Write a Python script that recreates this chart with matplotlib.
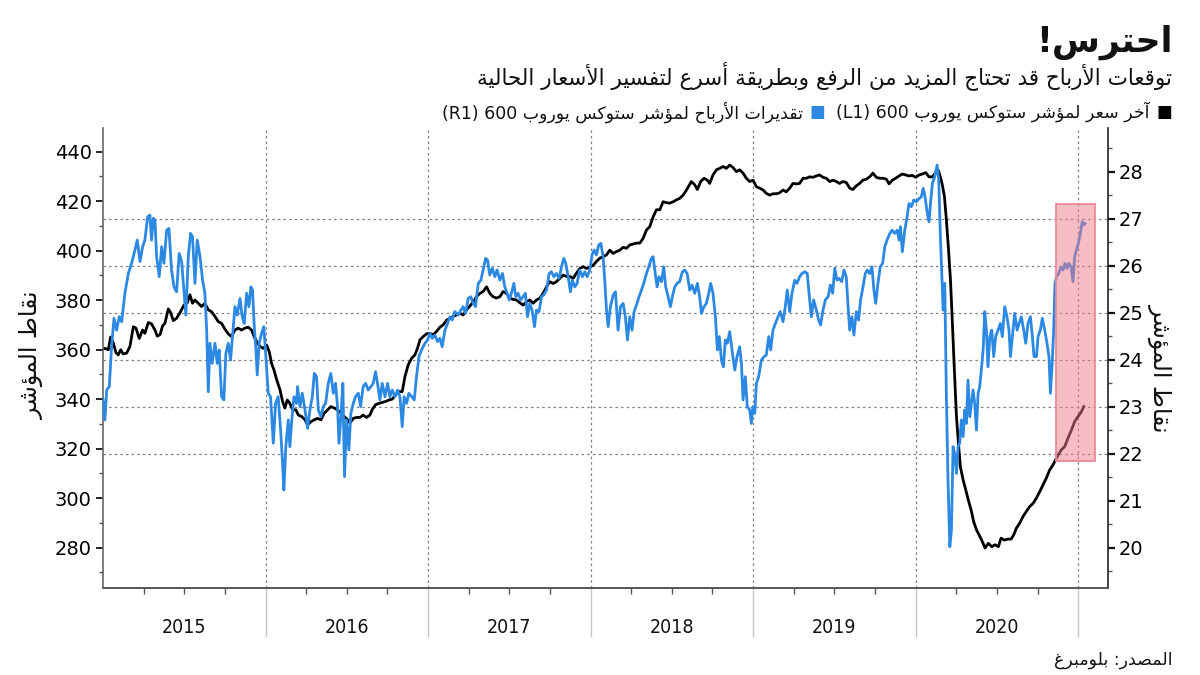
import matplotlib
matplotlib.use('Agg')
import matplotlib.pyplot as plt
from matplotlib.patches import Rectangle
from matplotlib.transforms import blended_transform_factory

# ---- data (decimal years) ----
# STOXX Europe 600 price, left axis (blue line)
price_dates = [
    2015.000, 2015.012, 2015.023, 2015.039, 2015.053, 2015.068, 2015.084, 2015.100, 2015.115, 2015.135,
    2015.156, 2015.176, 2015.197, 2015.211, 2015.228, 2015.244, 2015.258, 2015.275, 2015.289, 2015.299,
    2015.310, 2015.320, 2015.330, 2015.346, 2015.361, 2015.375, 2015.392, 2015.406, 2015.422, 2015.437,
    2015.453, 2015.469, 2015.484, 2015.498, 2015.510, 2015.525, 2015.539, 2015.551, 2015.566, 2015.580,
    2015.597, 2015.613, 2015.627, 2015.638, 2015.648, 2015.658, 2015.672, 2015.689, 2015.703, 2015.715,
    2015.730, 2015.744, 2015.756, 2015.771, 2015.785, 2015.797, 2015.812, 2015.826, 2015.843, 2015.857,
    2015.869, 2015.884, 2015.898, 2015.910, 2015.920, 2015.931, 2015.941, 2015.949, 2015.961, 2015.976,
    2015.990, 2016.002, 2016.017, 2016.031, 2016.048, 2016.062, 2016.078, 2016.093, 2016.105, 2016.113,
    2016.125, 2016.140, 2016.150, 2016.160, 2016.175, 2016.191, 2016.197, 2016.212, 2016.226, 2016.243,
    2016.259, 2016.273, 2016.288, 2016.300, 2016.314, 2016.325, 2016.341, 2016.355, 2016.370, 2016.386,
    2016.402, 2016.417, 2016.431, 2016.443, 2016.452, 2016.464, 2016.476, 2016.486, 2016.499, 2016.513,
    2016.525, 2016.540, 2016.554, 2016.571, 2016.585, 2016.601, 2016.616, 2016.632, 2016.648, 2016.663,
    2016.677, 2016.689, 2016.704, 2016.718, 2016.735, 2016.751, 2016.765, 2016.780, 2016.796, 2016.812,
    2016.827, 2016.841, 2016.853, 2016.868, 2016.882, 2016.899, 2016.915, 2016.929, 2016.944, 2016.960,
    2016.981, 2016.997, 2017.011, 2017.026, 2017.042, 2017.058, 2017.073, 2017.087, 2017.104, 2017.120,
    2017.134, 2017.149, 2017.165, 2017.186, 2017.202, 2017.216, 2017.231, 2017.247, 2017.263, 2017.278,
    2017.292, 2017.309, 2017.325, 2017.339, 2017.354, 2017.366, 2017.380, 2017.396, 2017.411, 2017.425,
    2017.442, 2017.458, 2017.472, 2017.487, 2017.499, 2017.513, 2017.528, 2017.540, 2017.554, 2017.569,
    2017.585, 2017.599, 2017.612, 2017.626, 2017.640, 2017.655, 2017.667, 2017.683, 2017.698, 2017.712,
    2017.729, 2017.745, 2017.759, 2017.774, 2017.790, 2017.806, 2017.821, 2017.835, 2017.847, 2017.862,
    2017.876, 2017.888, 2017.903, 2017.917, 2017.933, 2017.950, 2017.964, 2017.979, 2017.995, 2018.009,
    2018.022, 2018.036, 2018.050, 2018.063, 2018.077, 2018.087, 2018.098, 2018.108, 2018.122, 2018.139,
    2018.153, 2018.169, 2018.184, 2018.200, 2018.214, 2018.227, 2018.241, 2018.255, 2018.268, 2018.282,
    2018.298, 2018.313, 2018.327, 2018.344, 2018.358, 2018.374, 2018.385, 2018.395, 2018.409, 2018.421,
    2018.436, 2018.450, 2018.462, 2018.477, 2018.491, 2018.503, 2018.518, 2018.532, 2018.548, 2018.565,
    2018.579, 2018.594, 2018.610, 2018.624, 2018.641, 2018.657, 2018.671, 2018.682, 2018.698, 2018.712,
    2018.727, 2018.739, 2018.753, 2018.768, 2018.780, 2018.792, 2018.805, 2018.817, 2018.829, 2018.841,
    2018.856, 2018.870, 2018.887, 2018.901, 2018.917, 2018.928, 2018.938, 2018.952, 2018.964, 2018.979,
    2018.989, 2018.999, 2019.010, 2019.020, 2019.034, 2019.051, 2019.067, 2019.081, 2019.096, 2019.108,
    2019.122, 2019.137, 2019.153, 2019.167, 2019.184, 2019.198, 2019.210, 2019.225, 2019.239, 2019.256,
    2019.270, 2019.286, 2019.301, 2019.317, 2019.333, 2019.344, 2019.358, 2019.372, 2019.389, 2019.403,
    2019.415, 2019.430, 2019.444, 2019.461, 2019.475, 2019.489, 2019.502, 2019.516, 2019.530, 2019.545,
    2019.559, 2019.573, 2019.583, 2019.594, 2019.608, 2019.620, 2019.635, 2019.649, 2019.661, 2019.676,
    2019.690, 2019.702, 2019.717, 2019.731, 2019.743, 2019.754, 2019.768, 2019.782, 2019.797, 2019.810,
    2019.824, 2019.841, 2019.855, 2019.871, 2019.886, 2019.898, 2019.906, 2019.918, 2019.933, 2019.947,
    2019.959, 2019.974, 2019.988, 2020.005, 2020.021, 2020.035, 2020.046, 2020.056, 2020.070, 2020.082,
    2020.093, 2020.103, 2020.117, 2020.132, 2020.142, 2020.152, 2020.162, 2020.169, 2020.179, 2020.189,
    2020.199, 2020.210, 2020.220, 2020.230, 2020.240, 2020.251, 2020.261, 2020.271, 2020.281, 2020.292,
    2020.302, 2020.312, 2020.322, 2020.333, 2020.343, 2020.353, 2020.363, 2020.374, 2020.384, 2020.394,
    2020.404, 2020.415, 2020.425, 2020.435, 2020.445, 2020.456, 2020.468, 2020.480, 2020.492, 2020.507,
    2020.521, 2020.533, 2020.548, 2020.562, 2020.574, 2020.583, 2020.595, 2020.609, 2020.624, 2020.636,
    2020.650, 2020.665, 2020.677, 2020.691, 2020.706, 2020.718, 2020.728, 2020.743, 2020.753, 2020.767,
    2020.779, 2020.794, 2020.808, 2020.820, 2020.829, 2020.841, 2020.849, 2020.857, 2020.866, 2020.880,
    2020.894, 2020.907, 2020.919, 2020.931, 2020.943, 2020.956, 2020.968, 2020.978, 2020.989, 2021.001,
    2021.013, 2021.025, 2021.034, 2021.042,
]
price_values = [
    339.7, 331.6, 343.7, 345.1, 361.2, 372.7, 367.9, 373.3, 371.3, 382.8,
    390.8, 394.9, 400.3, 404.3, 395.6, 401.6, 404.3, 413.7, 414.4, 404.3,
    413.1, 412.4, 397.6, 389.5, 401.6, 394.9, 408.3, 409.0, 392.2, 385.4,
    383.4, 398.9, 395.6, 384.1, 374.0, 397.6, 407.0, 405.7, 386.8, 404.3,
    397.6, 388.1, 382.8, 367.9, 343.0, 362.6, 354.5, 362.6, 354.5, 359.9,
    341.0, 339.7, 358.5, 362.6, 355.8, 365.3, 377.4, 374.0, 380.7, 373.3,
    370.6, 382.8, 377.4, 385.4, 384.1, 369.3, 359.9, 349.8, 362.6, 366.6,
    369.3, 357.2, 342.4, 341.0, 322.2, 338.3, 341.0, 327.5, 314.1, 303.3,
    320.8, 331.6, 320.8, 330.2, 341.0, 338.3, 345.1, 337.0, 342.4, 335.6,
    328.2, 335.6, 341.0, 350.4, 349.1, 335.6, 332.9, 337.0, 338.3, 346.4,
    350.4, 342.4, 346.4, 337.0, 322.2, 332.9, 346.4, 308.7, 331.6, 319.5,
    334.3, 338.3, 341.0, 342.4, 337.0, 345.1, 346.4, 343.7, 345.1, 346.4,
    351.1, 346.4, 339.7, 346.4, 341.0, 346.4, 341.0, 343.7, 341.0, 343.7,
    341.0, 328.9, 341.0, 338.3, 342.4, 341.0, 339.7, 349.1, 357.2, 359.9,
    362.6, 363.9, 366.6, 364.6, 365.9, 363.3, 364.6, 361.2, 367.9, 370.6,
    373.3, 372.0, 375.4, 374.0, 376.0, 377.4, 374.7, 380.7, 381.4, 378.7,
    377.4, 386.8, 388.1, 392.2, 396.9, 396.2, 390.2, 392.9, 389.5, 392.2,
    388.1, 390.8, 385.4, 382.8, 380.1, 382.8, 386.8, 381.4, 382.8, 380.1,
    381.4, 382.8, 373.3, 378.7, 376.0, 369.3, 376.0, 375.4, 381.4, 382.1,
    384.1, 390.8, 391.5, 389.5, 390.8, 388.8, 393.5, 396.9, 394.9, 389.5,
    383.4, 388.1, 385.4, 386.8, 392.2, 389.5, 391.5, 389.5, 392.2, 398.3,
    400.3, 398.3, 402.3, 403.0, 397.6, 388.1, 376.0, 369.3, 377.4, 382.1,
    383.4, 367.9, 377.4, 378.7, 373.3, 363.9, 373.3, 367.9, 375.4, 378.0,
    381.4, 384.1, 386.8, 390.8, 393.5, 396.9, 397.6, 392.2, 385.4, 389.5,
    387.5, 393.5, 385.4, 381.4, 377.4, 381.4, 385.4, 386.8, 387.5, 391.5,
    392.2, 390.8, 384.1, 386.1, 382.8, 386.8, 381.4, 374.7, 377.4, 378.7,
    382.8, 386.8, 382.8, 373.3, 359.9, 365.3, 355.8, 353.1, 363.9, 362.6,
    367.3, 359.9, 351.8, 357.2, 361.2, 354.5, 339.7, 349.1, 337.0, 335.6,
    330.2, 337.0, 334.3, 346.4, 349.1, 355.8, 357.2, 357.8, 365.3, 359.9,
    367.9, 370.6, 373.3, 375.4, 371.3, 377.4, 384.1, 375.4, 382.8, 388.1,
    386.8, 389.5, 390.8, 391.5, 390.8, 382.8, 373.3, 380.1, 376.0, 372.0,
    370.0, 376.0, 380.1, 381.4, 386.1, 382.8, 392.9, 388.1, 388.8, 387.5,
    392.2, 389.5, 378.7, 367.9, 373.3, 365.9, 375.4, 372.0, 380.1, 385.4,
    390.8, 392.2, 390.8, 393.5, 384.1, 378.7, 386.8, 393.5, 394.9, 401.6,
    404.3, 407.0, 408.3, 407.0, 408.3, 404.3, 409.7, 399.6, 408.3, 413.7,
    419.1, 417.8, 420.5, 419.8, 421.1, 421.8, 425.2, 422.5, 415.8, 411.7,
    420.5, 427.2, 429.9, 434.6, 428.6, 405.7, 388.1, 376.0, 386.8, 341.0,
    307.3, 280.4, 287.1, 320.8, 318.1, 310.0, 320.8, 322.2, 331.6, 324.9,
    335.6, 330.2, 347.7, 332.9, 338.3, 343.7, 338.3, 327.5, 342.4, 345.1,
    351.8, 359.9, 375.4, 367.9, 353.1, 365.3, 367.9, 357.2, 365.3, 367.9,
    370.6, 365.3, 377.4, 373.3, 367.9, 357.2, 365.3, 374.7, 367.9, 370.6,
    373.3, 367.9, 362.6, 370.6, 373.3, 365.3, 357.2, 357.2, 365.3, 367.9,
    372.7, 367.9, 362.6, 357.2, 342.4, 355.8, 367.9, 386.8, 389.5, 390.8,
    393.5, 392.2, 394.9, 392.9, 394.9, 393.5, 387.5, 397.6, 400.3, 403.0,
    407.0, 411.7, 410.4, 411.0,
]

# earnings estimates, right axis (black line)
eps_dates = [
    2015.000, 2015.012, 2015.033, 2015.047, 2015.064, 2015.080, 2015.094, 2015.109, 2015.125, 2015.146,
    2015.166, 2015.187, 2015.203, 2015.223, 2015.244, 2015.258, 2015.279, 2015.299, 2015.320, 2015.334,
    2015.351, 2015.367, 2015.381, 2015.402, 2015.416, 2015.433, 2015.453, 2015.474, 2015.498, 2015.519,
    2015.535, 2015.551, 2015.566, 2015.586, 2015.607, 2015.627, 2015.648, 2015.668, 2015.689, 2015.709,
    2015.730, 2015.750, 2015.771, 2015.791, 2015.812, 2015.832, 2015.853, 2015.873, 2015.894, 2015.914,
    2015.935, 2015.949, 2015.966, 2015.986, 2016.007, 2016.023, 2016.037, 2016.052, 2016.068, 2016.089,
    2016.105, 2016.119, 2016.134, 2016.150, 2016.166, 2016.187, 2016.202, 2016.222, 2016.243, 2016.259,
    2016.279, 2016.300, 2016.320, 2016.341, 2016.361, 2016.382, 2016.402, 2016.423, 2016.443, 2016.464,
    2016.484, 2016.505, 2016.519, 2016.540, 2016.560, 2016.581, 2016.601, 2016.622, 2016.642, 2016.657,
    2016.677, 2016.698, 2016.718, 2016.739, 2016.759, 2016.780, 2016.800, 2016.821, 2016.841, 2016.858,
    2016.878, 2016.899, 2016.919, 2016.935, 2016.950, 2016.970, 2016.991, 2017.011, 2017.032, 2017.052,
    2017.073, 2017.093, 2017.114, 2017.134, 2017.155, 2017.175, 2017.196, 2017.216, 2017.237, 2017.257,
    2017.278, 2017.298, 2017.319, 2017.339, 2017.360, 2017.380, 2017.400, 2017.421, 2017.442, 2017.462,
    2017.483, 2017.503, 2017.524, 2017.544, 2017.565, 2017.585, 2017.606, 2017.626, 2017.647, 2017.667,
    2017.688, 2017.708, 2017.729, 2017.749, 2017.770, 2017.790, 2017.811, 2017.831, 2017.852, 2017.872,
    2017.893, 2017.913, 2017.934, 2017.954, 2017.975, 2017.995, 2018.016, 2018.036, 2018.057, 2018.077,
    2018.098, 2018.118, 2018.139, 2018.159, 2018.180, 2018.200, 2018.221, 2018.241, 2018.262, 2018.282,
    2018.303, 2018.323, 2018.344, 2018.364, 2018.385, 2018.405, 2018.426, 2018.446, 2018.467, 2018.487,
    2018.508, 2018.528, 2018.548, 2018.569, 2018.590, 2018.620, 2018.641, 2018.657, 2018.677, 2018.698,
    2018.718, 2018.733, 2018.753, 2018.774, 2018.794, 2018.815, 2018.835, 2018.856, 2018.876, 2018.897,
    2018.917, 2018.938, 2018.958, 2018.979, 2018.999, 2019.020, 2019.040, 2019.061, 2019.081, 2019.102,
    2019.122, 2019.143, 2019.163, 2019.184, 2019.204, 2019.225, 2019.245, 2019.266, 2019.286, 2019.307,
    2019.327, 2019.348, 2019.368, 2019.389, 2019.409, 2019.430, 2019.450, 2019.471, 2019.491, 2019.512,
    2019.532, 2019.553, 2019.573, 2019.594, 2019.614, 2019.635, 2019.655, 2019.676, 2019.696, 2019.717,
    2019.737, 2019.758, 2019.778, 2019.799, 2019.820, 2019.836, 2019.857, 2019.877, 2019.898, 2019.918,
    2019.939, 2019.959, 2019.980, 2020.000, 2020.021, 2020.041, 2020.062, 2020.082, 2020.103, 2020.123,
    2020.138, 2020.152, 2020.164, 2020.177, 2020.189, 2020.201, 2020.214, 2020.226, 2020.238, 2020.251,
    2020.263, 2020.275, 2020.292, 2020.308, 2020.324, 2020.341, 2020.357, 2020.374, 2020.390, 2020.406,
    2020.427, 2020.447, 2020.468, 2020.488, 2020.509, 2020.525, 2020.546, 2020.566, 2020.587, 2020.603,
    2020.619, 2020.640, 2020.660, 2020.681, 2020.701, 2020.722, 2020.742, 2020.763, 2020.783, 2020.804,
    2020.824, 2020.845, 2020.861, 2020.876, 2020.896, 2020.917, 2020.937, 2020.958, 2020.978, 2020.999,
    2021.019, 2021.034,
]
eps_values = [
    24.22, 24.24, 24.21, 24.48, 24.35, 24.15, 24.10, 24.21, 24.12, 24.14,
    24.28, 24.70, 24.67, 24.45, 24.63, 24.56, 24.79, 24.76, 24.63, 24.50,
    24.53, 24.72, 24.77, 25.08, 25.00, 24.83, 24.88, 25.00, 25.16, 25.21,
    25.38, 25.20, 25.27, 25.20, 25.13, 25.20, 25.06, 25.02, 24.92, 24.81,
    24.77, 24.65, 24.55, 24.49, 24.63, 24.67, 24.63, 24.67, 24.69, 24.63,
    24.45, 24.36, 24.28, 24.24, 24.31, 24.17, 23.92, 23.78, 23.58, 23.36,
    23.11, 22.97, 23.14, 23.07, 22.94, 22.93, 22.82, 22.79, 22.72, 22.61,
    22.68, 22.72, 22.75, 22.72, 22.86, 22.93, 23.00, 22.97, 22.93, 22.86,
    22.79, 22.72, 22.65, 22.75, 22.77, 22.77, 22.82, 22.77, 22.82, 22.94,
    23.04, 23.07, 23.09, 23.11, 23.14, 23.16, 23.25, 23.32, 23.32, 23.64,
    23.89, 24.03, 24.10, 24.24, 24.42, 24.49, 24.55, 24.56, 24.53, 24.60,
    24.69, 24.74, 24.84, 24.88, 24.92, 24.95, 24.99, 24.95, 25.06, 25.14,
    25.23, 25.34, 25.41, 25.45, 25.55, 25.41, 25.34, 25.31, 25.34, 25.45,
    25.41, 25.31, 25.28, 25.27, 25.21, 25.16, 25.23, 25.27, 25.20, 25.27,
    25.31, 25.41, 25.55, 25.66, 25.62, 25.66, 25.73, 25.80, 25.77, 25.77,
    25.73, 25.84, 25.94, 25.98, 25.94, 25.97, 26.01, 26.09, 26.16, 26.19,
    26.23, 26.33, 26.26, 26.30, 26.33, 26.39, 26.37, 26.44, 26.46, 26.48,
    26.48, 26.58, 26.76, 26.83, 27.04, 27.19, 27.19, 27.36, 27.34, 27.33,
    27.36, 27.40, 27.43, 27.50, 27.61, 27.79, 27.72, 27.62, 27.79, 27.86,
    27.82, 27.75, 27.93, 28.04, 28.07, 28.11, 28.07, 28.14, 28.09, 28.00,
    28.04, 27.97, 27.86, 27.79, 27.82, 27.68, 27.65, 27.61, 27.54, 27.50,
    27.53, 27.53, 27.55, 27.61, 27.57, 27.65, 27.75, 27.74, 27.75, 27.86,
    27.86, 27.89, 27.88, 27.91, 27.93, 27.88, 27.86, 27.79, 27.82, 27.79,
    27.75, 27.79, 27.77, 27.65, 27.62, 27.70, 27.75, 27.82, 27.84, 27.89,
    27.97, 27.88, 27.86, 27.86, 27.84, 27.74, 27.82, 27.86, 27.91, 27.95,
    27.93, 27.91, 27.92, 27.88, 27.93, 27.95, 27.98, 27.89, 27.89, 27.98,
    28.04, 27.89, 27.72, 27.47, 26.97, 26.40, 25.70, 24.77, 23.78, 22.79,
    22.22, 21.72, 21.44, 21.23, 21.01, 20.80, 20.55, 20.38, 20.27, 20.16,
    19.99, 20.09, 20.02, 20.06, 20.02, 20.20, 20.16, 20.18, 20.18, 20.27,
    20.41, 20.52, 20.66, 20.77, 20.87, 20.94, 21.05, 21.19, 21.33, 21.48,
    21.65, 21.76, 21.87, 21.97, 22.08, 22.15, 22.33, 22.50, 22.68, 22.79,
    22.89, 23.00,
]

years = [2015, 2016, 2017, 2018, 2019, 2020]
left_ticks = [280, 300, 320, 340, 360, 380, 400, 420, 440]
right_ticks = [20, 21, 22, 23, 24, 25, 26, 27, 28]
grid_levels = [22, 23, 24, 25, 26, 27]

# highlighted window (latest weeks)
box_x = [2020.863, 2021.103]
box_y = [315.0, 418.9]

title = "احترس!"
subtitle = "توقعات الأرباح قد تحتاج المزيد من الرفع وبطريقة أسرع لتفسير الأسعار الحالية"
legend_price = "آخر سعر لمؤشر ستوكس يوروب 600 (L1)"
legend_eps = "تقديرات الأرباح لمؤشر ستوكس يوروب 600 (R1)"
axis_label = "نقاط المؤشر"
source = "المصدر: بلومبرغ"

BLUE = '#2b88e3'


# ---- minimal arabic shaping + right-to-left ordering ----
_letters = "ءآأؤإئابةتثجحخدذرزسشصضطظعغفقكلمنهوىي"
_nforms = [1, 2, 2, 2, 2, 4, 2, 4, 2, 4, 4, 4, 4, 4, 2, 2, 2, 2, 4, 4,
           4, 4, 4, 4, 4, 4, 4, 4, 4, 4, 4, 4, 4, 2, 2, 4]
FORMS = {}
_base = 0xFE80
for _c, _n in zip(_letters, _nforms):
    FORMS[_c] = (_base, _n)
    _base += _n
LAMALEF = {'آ': (0xFEF5, 0xFEF6), 'أ': (0xFEF7, 0xFEF8),
           'إ': (0xFEF9, 0xFEFA), 'ا': (0xFEFB, 0xFEFC)}
MIRROR = {'(': ')', ')': '('}


def _joins_next(u):
    return not isinstance(u, tuple) and u in FORMS and FORMS[u][1] == 4


def _joins_prev(u):
    return isinstance(u, tuple) or (u in FORMS and FORMS[u][1] >= 2)


def reshape(s):
    units = []
    i = 0
    while i < len(s):
        if s[i] == 'ل' and i + 1 < len(s) and s[i + 1] in LAMALEF:
            units.append(('la', s[i + 1]))
            i += 2
        else:
            units.append(s[i])
            i += 1
    out = []
    for k, u in enumerate(units):
        prev = units[k - 1] if k > 0 else None
        nxt = units[k + 1] if k + 1 < len(units) else None
        cp = prev is not None and _joins_next(prev) and _joins_prev(u)
        cn = nxt is not None and _joins_next(u) and _joins_prev(nxt)
        if isinstance(u, tuple):
            iso, fin = LAMALEF[u[1]]
            out.append(chr(fin if cp else iso))
        elif u in FORMS:
            base, n = FORMS[u]
            off = 3 if (cp and cn) else 1 if cp else 2 if cn else 0
            out.append(chr(base + off))
        else:
            out.append(u)
    return ''.join(out)


def ar(s):
    shaped = reshape(s)
    runs = []
    for ch in shaped:
        ltr = ch.isascii() and ch.isalnum()
        if runs and runs[-1][0] == ltr:
            runs[-1][1].append(ch)
        else:
            runs.append([ltr, [ch]])
    out = []
    for ltr, chars in reversed(runs):
        if ltr:
            out.append(''.join(chars))
        else:
            out.append(''.join(MIRROR.get(c, c) for c in reversed(chars)))
    return ''.join(out)


plt.rcParams['font.family'] = ['DejaVu Sans']

fig = plt.figure(figsize=(12, 6.75), dpi=100)
ax2 = fig.add_axes([0.0858, 0.1289, 0.8375, 0.6815])
ax = ax2.twinx()
# price axis drawn on top (left side), eps axis underneath (right side)
ax.yaxis.tick_left()
ax.yaxis.set_label_position('left')
ax2.yaxis.tick_right()
ax2.yaxis.set_label_position('right')
ax.set_zorder(ax2.get_zorder() + 1)
ax.patch.set_visible(False)

x0, x1 = 2015.0, 2021.183
ax.set_xlim(x0, x1)
ax2.set_xlim(x0, x1)
ax.set_ylim(263.7, 449.6)
ax2.set_ylim(19.14, 28.93)

# grid
for v in grid_levels:
    ax2.axhline(v, color='#808080', lw=0.9, ls=(0, (2, 2.5)), zorder=0)
for y in years[1:] + [2021]:
    ax2.axvline(y, color='#808080', lw=0.9, ls=(0, (2, 2.5)), zorder=0)

ax2.plot(eps_dates, eps_values, color='black', lw=2.0, zorder=3)
ax.plot(price_dates, price_values, color=BLUE, lw=2.0, zorder=3)

ax.add_patch(Rectangle((box_x[0], box_y[0]), box_x[1] - box_x[0], box_y[1] - box_y[0],
                       facecolor='#ef7d8d', alpha=0.5, edgecolor='none', zorder=5))
ax.add_patch(Rectangle((box_x[0], box_y[0]), box_x[1] - box_x[0], box_y[1] - box_y[0],
                       facecolor='none', edgecolor='#ec8898', lw=1.3, zorder=6))

# spines
for a in (ax, ax2):
    a.spines['top'].set_visible(False)
ax.spines['right'].set_visible(False)
ax2.spines['left'].set_visible(False)
ax.spines['left'].set_color('#666666')
ax.spines['left'].set_linewidth(1.2)
ax2.spines['right'].set_color('#222222')
ax2.spines['right'].set_linewidth(1.2)
ax.spines['bottom'].set_visible(False)
ax2.spines['bottom'].set_color('#555555')
ax2.spines['bottom'].set_linewidth(1.4)

# y ticks
ax.set_yticks(left_ticks)
ax.set_yticks(range(270, 450, 10), minor=True)
ax.tick_params(axis='y', which='major', direction='out', length=5, width=1.4,
               labelsize=14, color='#222222', pad=3)
ax.tick_params(axis='y', which='minor', direction='out', length=3, width=1, color='#555555')
ax2.set_yticks(right_ticks)
ax2.set_yticks([19.5 + i for i in range(10)], minor=True)
ax2.tick_params(axis='y', which='major', direction='out', length=5, width=1.6,
                labelsize=14, color='#111111', pad=3)
ax2.tick_params(axis='y', which='minor', direction='out', length=3, width=1, color='#555555')

# x ticks: quarters, labels centred inside each year
ax.set_xticks([])
quarters = [y + q for y in years for q in (0.25, 0.5, 0.75)]
ax2.set_xticks(quarters)
ax2.set_xticklabels([])
ax2.tick_params(axis='x', direction='out', length=4, width=1, color='#555555')
trans = blended_transform_factory(ax2.transData, ax2.transAxes)
for y in years:
    ax2.text(y + 0.5, -0.085, str(y), transform=trans, ha='center', va='center',
             fontsize=14, color='#111111', fontstretch='condensed')
for y in years[1:] + [2021]:
    ax2.plot([y, y], [0, -0.105], transform=trans, color='#c4c4c4', lw=1.0, clip_on=False)

# axis titles
fig.text(0.027, 0.474, ar(axis_label), rotation=90, ha='center', va='center',
         fontsize=17, color='#111111')
fig.text(0.967, 0.455, ar(axis_label), rotation=270, ha='center', va='center',
         fontsize=17, color='#111111')

# headline block (right aligned)
fig.text(0.977, 0.937, ar(title), ha='right', va='center', fontsize=25,
         fontweight='bold', color='#111111')
fig.text(0.977, 0.888, ar(subtitle), ha='right', va='center', fontsize=15.5, color='#111111')

# legend
fig.text(0.977, 0.834, '■', ha='right', va='center', fontsize=12, color='black')
fig.text(0.958, 0.834, ar(legend_price), ha='right', va='center', fontsize=12.5, color='#111111')
fig.text(0.688, 0.834, '■', ha='right', va='center', fontsize=12, color=BLUE)
fig.text(0.669, 0.834, ar(legend_eps), ha='right', va='center', fontsize=12.5, color='#111111')

fig.text(0.977, 0.022, ar(source), ha='right', va='center', fontsize=12.5, color='#111111')

fig.savefig('out.png', dpi=100)
